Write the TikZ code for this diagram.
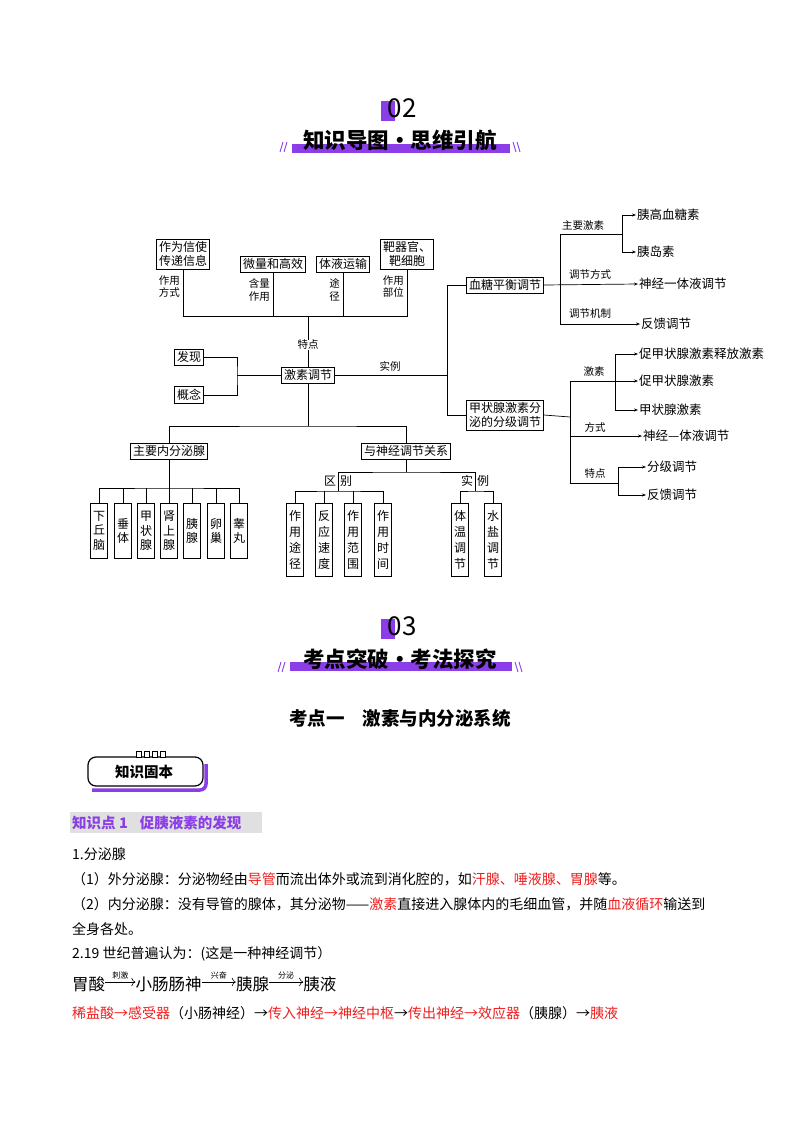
\documentclass[tikz,border=0pt]{standalone}
\usepackage{fontspec}
\setmainfont{Noto Sans CJK SC}
\usetikzlibrary{arrows.meta,positioning}
\definecolor{brand}{RGB}{139,61,232}
\definecolor{hilite}{RGB}{240,30,30}
\tikzset{
    box/.style={rectangle, draw, line width=0.8pt, inner sep=2.5pt, font=\fontsize{12}{14}\selectfont, align=center},
    vbox/.style={box, anchor=north, text width=12pt, inner sep=2.5pt, font=\fontsize{12}{14.5}\selectfont},
    tag/.style={font=\fontsize{10.5}{12.5}\selectfont, align=center, inner sep=0pt},
    leaf/.style={anchor=west, font=\fontsize{12.5}{14}\selectfont, inner sep=1pt},
    link/.style={line width=0.7pt},
    flow/.style={link, -{Stealth[length=4pt,width=3pt]}},
    body/.style={anchor=west, font=\fontsize{14}{16}\selectfont, inner sep=0pt},
    headline/.style={font=\fontsize{21.5}{23}\selectfont\bfseries, inner sep=0pt},
    bignum/.style={font=\fontsize{26}{28}\selectfont, inner sep=0pt},
    slash/.style={brand, line width=0.9pt}
}
\newcommand{\hl}[1]{\textcolor{hilite}{#1}}

\begin{document}
\begin{tikzpicture}[x=1pt, y=-1pt]
    \useasboundingbox[fill=white] (0,0) rectangle (800,1132);

    % Section 02 header
    \fill[brand] (381,101) rectangle (395,121);
    \node[bignum] (num2) at (402,108) {02};
    \fill[brand] (292,144) rectangle (510,153);
    \node[headline] (head2) at (400,140) {知识导图·思维引航};
    \draw[slash] (280,152)--(283,142) (284,152)--(287,142);
    \draw[slash] (513,142)--(516,152) (517,142)--(520,152);

    % Features of hormone regulation
    \node[box] (msg) at (183,254) {作为信使\\传递信息};
    \node[box] (trace) at (273,264) {微量和高效};
    \node[box] (fluid) at (343,264) {体液运输};
    \node[box] (target) at (407,254) {靶器官、\\靶细胞};
    \node[box] (core) at (308,375) {激素调节};
    \node[box] (find) at (189,357) {发现};
    \node[box] (idea) at (189,395) {概念};

    \coordinate (fbar) at (308,316);
    \draw[link] (msg.south) -- (msg.south |- fbar) -- (target.south |- fbar) -- (target.south);
    \draw[link] (trace.south) -- (trace.south |- fbar);
    \draw[link] (fluid.south) -- (fluid.south |- fbar);
    \draw[link] (fbar) -- (core.north);
    \node[tag, left=3pt of msg.south, anchor=north east, yshift=-6pt] (l1) {作用\\方式};
    \node[tag, left=3pt of trace.south, anchor=north east, yshift=-6pt] (l2) {含量\\作用};
    \node[tag, left=3pt of fluid.south, anchor=north east, yshift=-6pt] (l3) {途\\径};
    \node[tag, left=3pt of target.south, anchor=north east, yshift=-6pt] (l4) {作用\\部位};
    \node[tag, fill=white] (l5) at (308,345) {特点};

    \coordinate (fork) at (237,375);
    \draw[link] (find.east) -| (fork) |- (idea.east);
    \draw[link] (fork) -- (core.west);

    % Examples on the right
    \node[box] (sugar) at (505,285) {血糖平衡调节};
    \node[box] (thyro) at (505,415) {甲状腺激素分\\泌的分级调节};
    \coordinate (rfork) at (447,375);
    \draw[link] (core.east) -- (rfork);
    \draw[link] (sugar.west) -- (sugar.west -| rfork) -- (thyro.west -| rfork) -- (thyro.west);
    \node[tag] (l6) at (390,366) {实例};

    % Blood sugar branch
    \node[leaf] (glucagon) at (636,215) {胰高血糖素};
    \node[leaf] (insulin) at (636,252) {胰岛素};
    \node[leaf] (nh1) at (638,284) {神经一体液调节};
    \node[leaf] (fb1) at (640,324) {反馈调节};
    \coordinate (s1) at (560,234);
    \coordinate (s2) at (622,234);
    \draw[link] (s1) -- (s2);
    \draw[link] (s1) -- (560,324);
    \draw[flow] (s2) |- (glucagon.west);
    \draw[flow] (s2) |- (insulin.west);
    \draw[flow] (sugar.east) -- (nh1.west);
    \draw[flow] (560,324) -- (fb1.west);
    \node[tag] (l7) at (583,226) {主要激素};
    \node[tag] (l8) at (590,274) {调节方式};
    \node[tag] (l9) at (590,314) {调节机制};

    % Thyroid branch
    \node[leaf] (trh) at (638,354) {促甲状腺激素释放激素};
    \node[leaf] (tsh) at (638,381) {促甲状腺激素};
    \node[leaf] (th) at (638,410) {甲状腺激素};
    \node[leaf] (nh2) at (642,436) {神经—体液调节};
    \node[leaf] (grade) at (646,467) {分级调节};
    \node[leaf] (fb2) at (646,495) {反馈调节};
    \coordinate (t0) at (570,417);
    \coordinate (t1) at (615,381);
    \coordinate (t2) at (618,483);
    \draw[link] (thyro.east) -- (t0);
    \draw[link] (570,381) -- (570,483) -- (t2);
    \draw[flow] (570,381) -- (tsh.west);
    \draw[flow] (t1) |- (trh.west);
    \draw[flow] (t1) |- (th.west);
    \draw[flow] (570,436) -- (nh2.west);
    \draw[flow] (t2) |- (grade.west);
    \draw[flow] (t2) |- (fb2.west);
    \node[tag] (l10) at (594,372) {激素};
    \node[tag] (l11) at (595,427) {方式};
    \node[tag] (l12) at (595,473) {特点};

    % Lower tree
    \node[box] (glands) at (169,451) {主要内分泌腺};
    \node[box] (nerve) at (406,451) {与神经调节关系};
    \coordinate (lbar) at (308,426);
    \draw[link] (core.south) -- (lbar);
    \draw[link] (glands.north) |- (lbar) -| (nerve.north);

    % Glands
    \coordinate (gbar) at (169,488);
    \draw[link] (glands.south) -- (gbar);
    \foreach \x/\t/\n in {99/下\\丘\\脑/g1, 123/垂\\体/g2, 146/甲\\状\\腺/g3, 169/肾\\上\\腺/g4, 192/胰\\腺/g5, 216/卵\\巢/g6, 239/睾\\丸/g7}
        \node[vbox, minimum height=55pt] (\n) at (\x,503) {\t};
    \draw[link] (g1.north) |- (gbar) -| (g7.north);
    \foreach \n in {g2,g3,g4,g5,g6}
        \draw[link] (\n.north) -- (\n.north |- gbar);

    % Differences and examples
    \coordinate (nbar) at (406,472);
    \coordinate (dpt) at (338,491);
    \coordinate (ept) at (475,491);
    \draw[link] (nerve.south) -- (nbar);
    \draw[link] (dpt) |- (nbar) -| (ept);
    \foreach \x/\t/\n in {295/作\\用\\途\\径/d1, 324/反\\应\\速\\度/d2, 353/作\\用\\范\\围/d3, 383/作\\用\\时\\间/d4, 460/体\\温\\调\\节/e1, 493/水\\盐\\调\\节/e2}
        \node[vbox, minimum height=73pt, font=\fontsize{12}{16}\selectfont] (\n) at (\x,503) {\t};
    \draw[link] (d1.north) |- (dpt) -| (d4.north);
    \draw[link] (d2.north) -- (d2.north |- dpt);
    \draw[link] (d3.north) -- (d3.north |- dpt);
    \draw[link] (e1.north) |- (ept) -| (e2.north);
    \node[tag, font=\fontsize{12}{14}\selectfont] (l13) at (338,481) {区\hspace{4pt}别};
    \node[tag, font=\fontsize{12}{14}\selectfont] (l14) at (475,481) {实\hspace{4pt}例};

    % Section 03 header
    \fill[brand] (381,619) rectangle (395,639);
    \node[bignum] (num3) at (402,626) {03};
    \fill[brand] (290,662) rectangle (512,671);
    \node[headline] (head3) at (400,659) {考点突破·考法探究};
    \draw[slash] (278,672)--(281,662) (282,672)--(285,662);
    \draw[slash] (515,662)--(518,672) (519,662)--(522,672);
    \node[font=\fontsize{18.5}{20}\selectfont\bfseries] (topic) at (400,718) {考点一\hspace{18pt}激素与内分泌系统};

    % Tag
    \draw[brand, line width=3.5pt, rounded corners=6pt] (92,790) -- (206,790) -- (206,764);
    \draw[line width=1.2pt, rounded corners=8pt, fill=white] (88,757) rectangle (203,786);
    \foreach \x in {136,144,152,160}
        \draw[line width=1pt, fill=white] (\x,751) rectangle ++(5,6);
    \node[font=\fontsize{14.5}{16}\selectfont\bfseries] (tagtxt) at (144,772) {知识固本};

    % Body text
    \fill[black!12] (70,812) rectangle (262,833);
    \node[body, font=\fontsize{14.5}{16}\selectfont\bfseries, text=brand] (kp) at (72,823) {知识点 1\hspace{12pt}促胰液素的发现};
    \node[body] (t1a) at (72,854) {1.分泌腺};
    \node[body] (t1b) at (72,879) {（1）外分泌腺：分泌物经由\hl{导管}而流出体外或流到消化腔的，如\hl{汗腺、唾液腺、胃腺}等。};
    \node[body] (t1c) at (72,904) {（2）内分泌腺：没有导管的腺体，其分泌物——\hl{激素}直接进入腺体内的毛细血管，并随\hl{血液循环}输送到};
    \node[body] (t1d) at (72,929) {全身各处。};
    \node[body] (t2) at (72,954) {2.19 世纪普遍认为：(这是一种神经调节）};

    \node[body, font=\fontsize{16.5}{18}\selectfont] (acid) at (72,984) {胃酸};
    \node[body, font=\fontsize{16.5}{18}\selectfont, right=30pt of acid] (gut) {小肠肠神};
    \node[body, font=\fontsize{16.5}{18}\selectfont, right=34pt of gut] (pan) {胰腺};
    \node[body, font=\fontsize{16.5}{18}\selectfont, right=34pt of pan] (juice) {胰液};
    \draw[-{To[length=4pt]}, line width=0.6pt] ([yshift=2pt]acid.east) -- node[above=-1pt, font=\fontsize{8}{9}\selectfont] (a1) {刺激} ([yshift=2pt]gut.west);
    \draw[-{To[length=4pt]}, line width=0.6pt] ([yshift=2pt]gut.east) -- node[above=-1pt, font=\fontsize{8}{9}\selectfont] (a2) {兴奋} ([yshift=2pt]pan.west);
    \draw[-{To[length=4pt]}, line width=0.6pt] ([yshift=2pt]pan.east) -- node[above=-1pt, font=\fontsize{8}{9}\selectfont] (a3) {分泌} ([yshift=2pt]juice.west);

    \node[body] (t3) at (72,1013) {\hl{稀盐酸→感受器}（小肠神经）→\hl{传入神经→神经中枢}→\hl{传出神经→效应器}（胰腺）→\hl{胰液}};
\end{tikzpicture}
\end{document}
